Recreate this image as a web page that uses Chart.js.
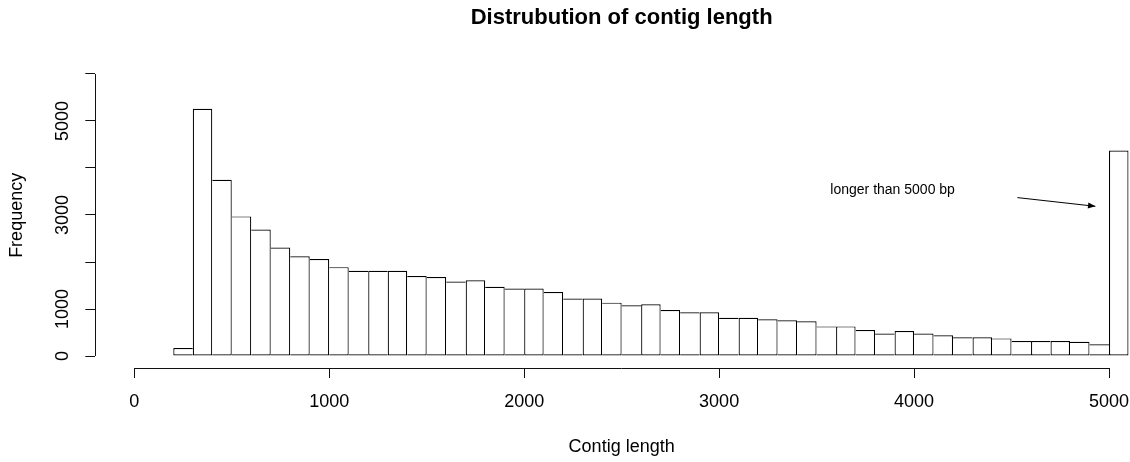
<!DOCTYPE html>
<html>
<head>
<meta charset="utf-8">
<script src="https://cdn.jsdelivr.net/npm/chart.js@4/dist/chart.umd.min.js"></script>
<style>
  html, body { margin: 0; padding: 0; background: #fff; }
  #clip { width: 1130px; height: 462px; overflow: hidden; position: relative; }
  #wrap { width: 1148px; height: 462px; position: relative; }
</style>
</head>
<body>
<div id="clip"><div id="wrap"><canvas id="c"></canvas></div></div>
<script>
// ---- data ----
const binStarts = [200, 300, 400, 500, 600, 700, 800, 900, 1000, 1100, 1200, 1300, 1400, 1500, 1600, 1700,
  1800, 1900, 2000, 2100, 2200, 2300, 2400, 2500, 2600, 2700, 2800, 2900, 3000, 3100, 3200, 3300,
  3400, 3500, 3600, 3700, 3800, 3900, 4000, 4100, 4200, 4300, 4400, 4500, 4600, 4700, 4800, 4900, 5000];
const frequencies = [170, 5260, 3750, 2970, 2690, 2310, 2120, 2065, 1890, 1815, 1815, 1815, 1700, 1680, 1585, 1610,
  1475, 1435, 1435, 1360, 1225, 1225, 1135, 1080, 1100, 980, 930, 930, 815, 815, 780, 760,
  740, 630, 630, 555, 480, 530, 480, 440, 400, 400, 375, 320, 320, 320, 305, 250, 4370];
const binWidth = 100;
const xTickValues = [0, 1000, 2000, 3000, 4000, 5000];
const xTickLabels = ['0', '1000', '2000', '3000', '4000', '5000'];
const yTickValues = [0, 1000, 2000, 3000, 4000, 5000, 6000];
const yTickLabels = ['0', '1000', '', '3000', '', '5000', ''];
const titleText = 'Distrubution of contig length';
const xTitle = 'Contig length';
const yTitle = 'Frequency';
const noteText = 'longer than 5000 bp';
const notePos = [3890, 3520];
const arrowFrom = [4530, 3370];
const arrowTo = [4930, 3185];

const FONT = 'Liberation Sans';
const LINE = '#111';

const points = binStarts.map((s, i) => ({ x: s + binWidth / 2, y: frequencies[i] }));

function alignPx(p) { return Math.round(p - 0.5) + 0.5; }

const rStyle = {
  id: 'rStyle',
  afterDraw(chart) {
    const { ctx, chartArea } = chart;
    const x = chart.scales.x, y = chart.scales.y;
    ctx.save();
    ctx.strokeStyle = LINE;
    ctx.lineWidth = 1;
    // y axis line (0..6000)
    const ax = alignPx(chartArea.left);
    ctx.beginPath();
    ctx.moveTo(ax, y.getPixelForValue(yTickValues[0]));
    ctx.lineTo(ax, y.getPixelForValue(yTickValues[yTickValues.length - 1]));
    ctx.stroke();
    // x axis line (0..5000)
    const ay = alignPx(chartArea.bottom);
    ctx.beginPath();
    ctx.moveTo(x.getPixelForValue(xTickValues[0]), ay);
    ctx.lineTo(x.getPixelForValue(xTickValues[xTickValues.length - 1]), ay);
    ctx.stroke();
    // annotation text
    ctx.fillStyle = '#000';
    ctx.font = '14px "' + FONT + '"';
    ctx.textAlign = 'center';
    ctx.textBaseline = 'middle';
    ctx.fillText(noteText, x.getPixelForValue(notePos[0]), y.getPixelForValue(notePos[1]));
    // arrow
    const x1 = x.getPixelForValue(arrowFrom[0]), y1 = y.getPixelForValue(arrowFrom[1]);
    const x2 = x.getPixelForValue(arrowTo[0]), y2 = y.getPixelForValue(arrowTo[1]);
    ctx.strokeStyle = '#000';
    ctx.beginPath();
    ctx.moveTo(x1, y1);
    ctx.lineTo(x2, y2);
    ctx.stroke();
    const ang = Math.atan2(y2 - y1, x2 - x1);
    const L = 8, a = 0.4;
    ctx.fillStyle = '#000';
    ctx.beginPath();
    ctx.moveTo(x2, y2);
    ctx.lineTo(x2 - L * Math.cos(ang - a), y2 - L * Math.sin(ang - a));
    ctx.lineTo(x2 - L * Math.cos(ang + a), y2 - L * Math.sin(ang + a));
    ctx.closePath();
    ctx.fill();
    ctx.restore();
  }
};

new Chart(document.getElementById('c'), {
  type: 'bar',
  data: {
    datasets: [{
      data: points,
      backgroundColor: '#ffffff',
      borderColor: '#000',
      borderSkipped: false,
      inflateAmount: 0,
      borderWidth: (ctx) => {
        const i = ctx.dataIndex;
        if (i === undefined) return 1;
        const v = frequencies;
        return {
          top: 1.2, bottom: 1.2,
          left: (i === 0 || v[i] >= v[i - 1]) ? 1.2 : 0,
          right: (i === v.length - 1 || v[i] > v[i + 1]) ? 1.2 : 0
        };
      },
      barPercentage: 1,
      categoryPercentage: 1
    }]
  },
  options: {
    responsive: true,
    maintainAspectRatio: false,
    animation: false,
    layout: { padding: 0 },
    plugins: {
      legend: { display: false },
      tooltip: { enabled: false },
      title: {
        display: true,
        text: titleText,
        fullSize: false,
        color: '#000',
        font: { family: FONT, size: 22, weight: 'bold' },
        padding: { top: 4.3, bottom: 32 }
      }
    },
    scales: {
      x: {
        type: 'linear',
        min: -200,
        max: 5200,
        offset: false,
        afterBuildTicks: (s) => { s.ticks = xTickValues.map(v => ({ value: v })); },
        afterFit: (s) => { s.height = 94; s.paddingLeft = 0; s.paddingRight = 0; },
        grid: { display: true, offset: false, drawOnChartArea: false, drawTicks: true, tickLength: 10, color: LINE, lineWidth: 1 },
        border: { display: false },
        ticks: {
          autoSkip: false, minRotation: 0, maxRotation: 0, padding: 13, color: '#000',
          font: { family: FONT, size: 18 },
          callback: (v) => { const k = xTickValues.indexOf(v); return k >= 0 ? xTickLabels[k] : ''; }
        },
        title: { display: true, text: xTitle, color: '#000', font: { family: FONT, size: 18 }, padding: { top: 0, bottom: 4 } }
      },
      y: {
        type: 'linear',
        min: -255,
        max: 6240,
        afterBuildTicks: (s) => { s.ticks = yTickValues.map(v => ({ value: v })); },
        afterFit: (s) => { s.width = 95.3; s.paddingTop = 0; s.paddingBottom = 0; },
        grid: { display: true, drawOnChartArea: false, drawTicks: true, tickLength: 10, color: LINE, lineWidth: 1 },
        border: { display: false },
        ticks: {
          autoSkip: false, minRotation: 90, maxRotation: 90, crossAlign: 'center', padding: 2, color: '#000',
          font: { family: FONT, size: 18 },
          callback: (v) => { const k = yTickValues.indexOf(v); return k >= 0 ? yTickLabels[k] : ''; }
        },
        title: { display: true, text: yTitle, color: '#000', font: { family: FONT, size: 18 }, padding: { top: 6, bottom: 0 } }
      }
    }
  },
  plugins: [rStyle]
});
</script>
</body>
</html>
